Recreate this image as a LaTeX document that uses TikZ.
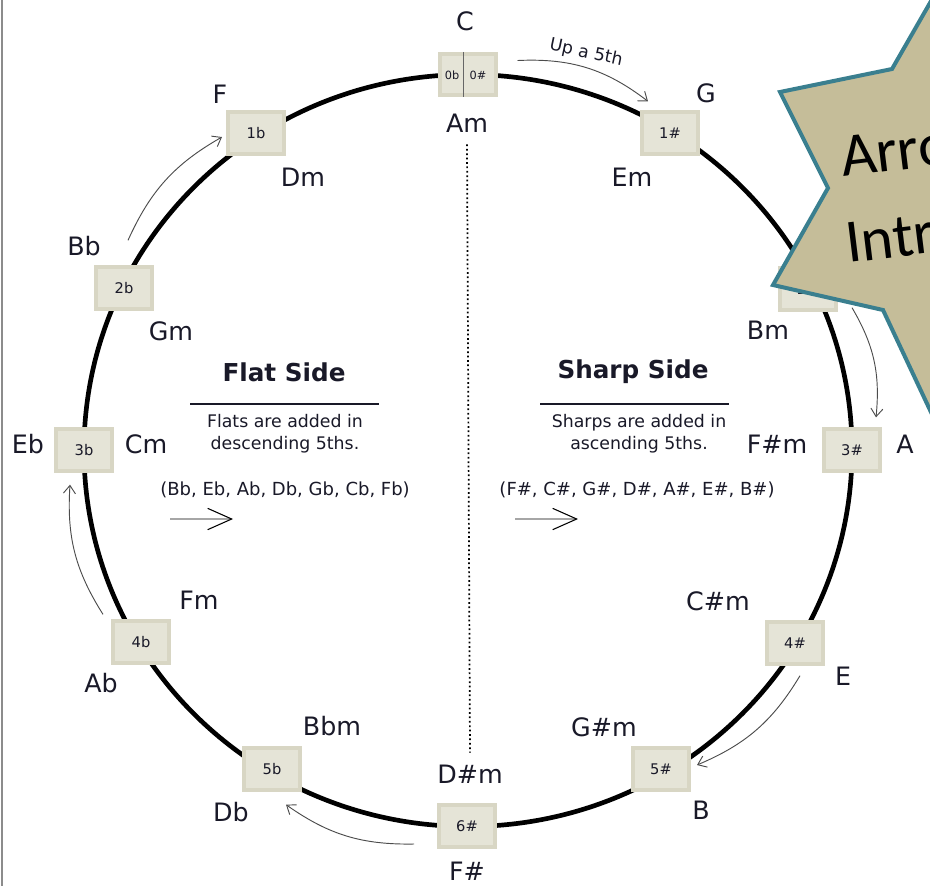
\documentclass[tikz,border=0pt]{standalone}
\usepackage{fontspec}
\setmainfont{DejaVu Sans}
\newfontfamily\starfont{Carlito}
\usetikzlibrary{arrows.meta}

\definecolor{boxout}{RGB}{216,214,196}
\definecolor{boxin}{RGB}{229,228,215}
\definecolor{startan}{RGB}{197,189,153}
\definecolor{starline}{RGB}{58,127,143}
\definecolor{ink}{RGB}{25,25,40}

\tikzset{
  ring/.style={line width=3.5pt, black},
  keybox/.style={rectangle, draw=boxout, fill=boxin, line width=3pt, minimum width=42pt, minimum height=31pt, inner sep=0pt, text=ink, font=\fontsize{11}{13}\selectfont},
  boxtxt/.style={inner sep=0pt, text=ink, font=\fontsize{8.5}{10}\selectfont},
  note/.style={inner sep=0pt, text=ink, text height=13.8pt, text depth=0pt, font=\fontsize{19}{22}\selectfont},
  sidetitle/.style={inner sep=0pt, text=ink, font=\bfseries\fontsize{18.5}{22}\selectfont},
  sidetext/.style={inner sep=0pt, text=ink, align=center, font=\fontsize{13}{16.5}\selectfont},
  sidelist/.style={inner sep=0pt, text=ink, font=\fontsize{13.5}{16}\selectfont},
  curvy/.style={-{Straight Barb[length=6pt,width=9pt]}, line width=0.7pt, black!70},
  sidearrow/.style={-{Straight Barb[length=18pt,width=16pt,line width=0.8pt,black]}, line width=2pt, black!35},
  startext/.style={inner sep=0pt, text=black, font=\starfont\fontsize{46}{50}\selectfont, rotate=7}
}

\begin{document}
\begin{tikzpicture}[x=0.75pt, y=-0.75pt]
  \useasboundingbox (0,0) rectangle (930,886);
  \draw[black!45, line width=1.5pt] (2,0) -- (2,886);

  % the circle of fifths
  \draw[ring] (468,450.5) ellipse [x radius=384, y radius=376];

  % key boxes
  \node[keybox] (k0) at (467.5,74.5) {};
  \draw[black!60, line width=1pt] ([xshift=-3pt]k0.north) -- ([xshift=-3pt]k0.south);
  \node[boxtxt] (k0f) at (452,75) {0b};
  \node[boxtxt] (k0s) at (478,75) {0\#};
  \node[keybox] (ks1) at (670,133) {1\#};
  \node[keybox] (ks2) at (808,289) {2\#};
  \node[keybox] (ks3) at (852,450) {3\#};
  \node[keybox] (ks4) at (795,643) {4\#};
  \node[keybox] (ks5) at (661,769) {5\#};
  \node[keybox] (ks6) at (467,826) {6\#};
  \node[keybox] (kf5) at (272,769) {5b};
  \node[keybox] (kf4) at (141,642) {4b};
  \node[keybox] (kf3) at (84,450) {3b};
  \node[keybox] (kf2) at (124,288) {2b};
  \node[keybox] (kf1) at (256,133) {1b};

  % major and minor keys
  \node[note] (C) at (465,21) {C};
  \node[note] (Am) at (467,123) {Am};
  \node[note] (G) at (706,93) {G};
  \node[note] (Em) at (632,177) {Em};
  \node[note] (Bm) at (768,330) {Bm};
  \node[note] (Fsm) at (777,444) {F\#m};
  \node[note] (A) at (905,444) {A};
  \node[note] (Csm) at (718,601) {C\#m};
  \node[note] (E) at (843,676) {E};
  \node[note] (Gsm) at (604,727) {G\#m};
  \node[note] (B) at (701,810) {B};
  \node[note] (Dsm) at (470,774) {D\#m};
  \node[note] (Fs) at (467,871) {F\#};
  \node[note] (Bbm) at (332,726) {Bbm};
  \node[note] (Db) at (231,812) {Db};
  \node[note] (Fm) at (199,600) {Fm};
  \node[note] (Ab) at (101,683) {Ab};
  \node[note] (Eb) at (28,444) {Eb};
  \node[note] (Cm) at (146,444) {Cm};
  \node[note] (Bb) at (84,246) {Bb};
  \node[note] (Gm) at (171,331) {Gm};
  \node[note] (F) at (220,94) {F};
  \node[note] (Dm) at (303,177) {Dm};

  \draw[dotted, line width=1.3pt] ([yshift=-9pt]Am.south) -- ([yshift=9pt]Dsm.north);

  % flat side
  \node[sidetitle] (flattitle) at (284,372) {Flat Side};
  \draw[ink, line width=1.1pt] (190,404) -- (379,404);
  \node[sidetext] (flattext) at (285,434) {Flats are added in\\descending 5ths.};
  \node[sidelist] (flatlist) at (285,490) {(Bb, Eb, Ab, Db, Gb, Cb, Fb)};
  \coordinate (fa1) at (170,519);
  \coordinate (fa2) at (233,519);
  \draw[sidearrow] (fa1) -- (fa2);

  % sharp side
  \node[sidetitle] (sharptitle) at (633,372) {Sharp Side};
  \draw[ink, line width=1.1pt] (540,404) -- (729,404);
  \node[sidetext] (sharptext) at (639,434) {Sharps are added in\\ascending 5ths.};
  \node[sidelist] (sharplist) at (637,490) {(F\#, C\#, G\#, D\#, A\#, E\#, B\#)};
  \coordinate (sa1) at (515,519);
  \coordinate (sa2) at (578,519);
  \draw[sidearrow] (sa1) -- (sa2);

  % moving round the circle
  \draw[curvy] ([shift={(20,-14)}]k0.east) to[bend left=20] ([shift={(8,-9)}]ks1.north west);
  \node[inner sep=0pt, text=ink, font=\fontsize{13}{15}\selectfont, rotate=-12] (up5) at (586,53) {Up a 5th};
  \draw[curvy] ([shift={(14,-4)}]ks2.south east) to[bend left=18] ([shift={(-6,-10)}]ks3.north east);
  \draw[curvy] ([shift={(5,10)}]ks4.south) to[bend left=18] ([shift={(6,-4)}]ks5.east);
  \draw[curvy] ([shift={(-23,18)}]ks6.west) to[bend left=18] ([shift={(-16,13)}]kf5.south east);
  \draw[curvy] ([shift={(-8,-5)}]kf4.north west) to[bend left=18] ([shift={(-14,12)}]kf3.south);
  \draw[curvy] ([shift={(4,-25)}]kf2.north) to[bend left=18] ([shift={(-4,4)}]kf1.west);

  % star callout, cut by the edge
  \begin{scope}
    \clip (0,0) rectangle (930,886);
    \draw[fill=startan, draw=starline, line width=3pt, line join=miter]
      (946,-25) -- (892,69) -- (780,92) -- (828,188) -- (773,285) -- (883,310)
      -- (945,442) -- (1020,320) -- (1110,190) -- (1020,60) -- cycle;
    \node[startext, anchor=base west] (arrows) at (843,177) {Arrows};
    \node[startext, anchor=base west] (intro) at (848,263) {Introduced};
  \end{scope}
\end{tikzpicture}
\end{document}
